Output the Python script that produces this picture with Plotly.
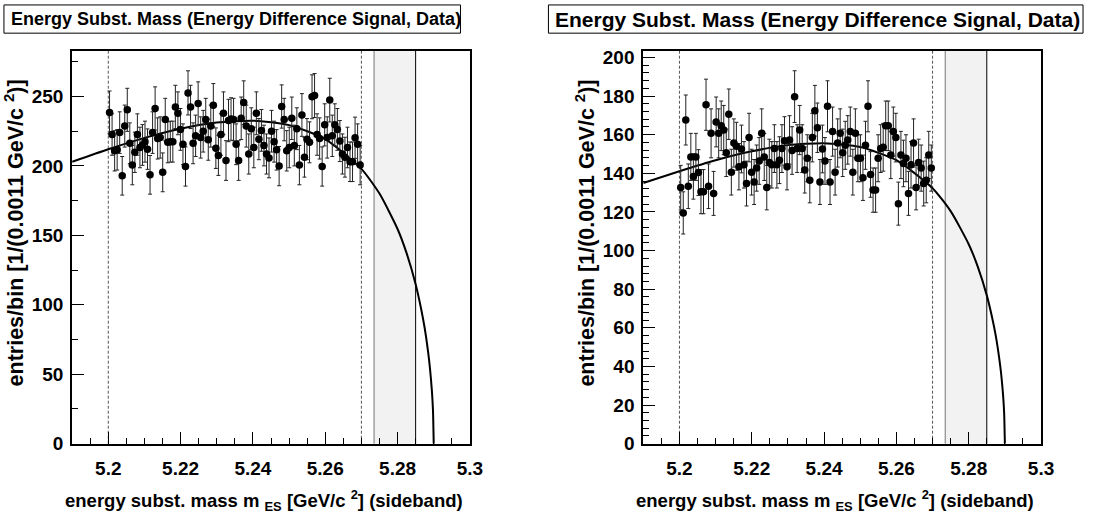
import numpy as np
import plotly.graph_objects as go

W, H = 1098, 516

# ---------------- data ----------------
bin_lo = 5.2
bin_w = 0.0007

left_counts = [
    238.5, 222.6, 210.9, 211.6, 224.0, 192.9, 228.7, 240.4, 216.3, 200.6,
    209.8, 222.6, 213.3, 215.1, 217.5, 212.1, 193.6, 224.0, 241.4, 219.8,
    220.5, 195.4, 233.4, 217.0, 217.5, 217.5, 242.5, 237.9, 226.3, 215.6,
    199.6, 252.6, 242.5, 216.3, 221.7, 244.9, 220.5, 225.0, 233.4, 218.9,
    228.7, 243.7, 212.8, 207.6, 222.6, 237.9, 203.9, 232.7, 233.8, 233.4,
    215.6, 203.9, 234.3, 245.6, 228.7, 208.6, 226.8, 213.3, 237.9, 219.3,
    225.6, 214.7, 208.6, 205.8, 225.0, 217.5, 211.6, 199.9, 242.8, 233.4,
    210.9, 213.3, 234.3, 214.7, 226.8, 200.6, 236.7, 206.3, 219.3, 217.0,
    249.8, 250.7, 222.6, 219.8, 199.6, 229.6, 220.5, 247.4, 221.7, 229.6,
    226.3, 217.9, 208.6, 206.3, 213.3, 203.0, 203.0, 220.3, 215.6, 200.6,
]

right_counts = [
    132.6, 119.5, 167.6, 133.3, 148.5, 138.4, 148.5, 140.4, 130.5, 130.5,
    175.5, 133.3, 160.7, 129.6, 166.6, 160.7, 164.6, 162.4, 150.6, 170.6,
    140.6, 155.7, 154.0, 143.4, 152.6, 144.4, 134.7, 158.5, 140.6, 135.5,
    142.7, 146.4, 160.7, 148.5, 132.6, 145.6, 144.4, 152.8, 144.4, 146.8,
    152.8, 156.8, 143.4, 157.3, 151.8, 179.7, 152.8, 162.4, 152.8, 141.7,
    147.8, 136.4, 158.5, 172.4, 163.6, 135.5, 152.6, 146.4, 174.7, 135.5,
    161.6, 140.6, 155.7, 160.7, 150.6, 154.5, 157.3, 161.6, 140.6, 160.7,
    147.8, 147.8, 137.7, 154.5, 174.7, 139.4, 131.3, 131.3, 147.8, 152.8,
    153.5, 164.6, 164.6, 149.5, 161.6, 158.5, 124.3, 149.5, 145.1, 147.8,
    129.6, 144.4, 155.7, 132.6, 145.6, 142.7, 134.7, 136.4, 149.5, 142.7,
]

curve_x = [5.19, 5.20, 5.21, 5.22, 5.23, 5.24, 5.25, 5.26, 5.27, 5.275, 5.28,
           5.2825, 5.285, 5.2865, 5.2875, 5.2885, 5.289, 5.2895, 5.2898, 5.29]
left_curve = [203.0, 212.0, 220.2, 226.8, 231.3, 232.6, 229.4, 219.3, 197.9, 180.1,
              154.6, 137.2, 114.9, 97.4, 83.3, 65.0, 53.4, 37.9, 24.0, 0.0]
right_curve = [135.0, 141.1, 146.8, 151.4, 154.6, 155.6, 153.6, 146.8, 132.3, 120.4,
               103.3, 91.7, 76.8, 65.1, 55.7, 43.4, 35.7, 25.3, 16.0, 0.0]

sideband = [5.20, 5.27]
signal_box = [5.2735, 5.285]
x_range = [5.19, 5.30]
left_yrange = [0, 283]
right_yrange = [0, 203.5]

title_text = "Energy Subst. Mass (Energy Difference Signal, Data)"
xtitle = "energy subst. mass m <sub>ES</sub> [GeV/c <sup>2</sup>] (sideband)"
ytitle = "entries/bin [1/(0.0011 GeV/c <sup>2</sup>)]"

# ---------------- layout geometry (pixels) ----------------
FONT = "Liberation Sans"
panels = [
    dict(xl=73, xr=475.5, counts=left_counts, curve=left_curve, yr=left_yrange,
         dtick=50, minor=25, box=(4, 466), tsize=18, ax=""),
    dict(xl=651, xr=1053.5, counts=right_counts, curve=right_curve, yr=right_yrange,
         dtick=20, minor=4, box=(555, 1096), tsize=21, ax="2"),
]
y_top, y_bot = 49, 453


def px(x):
    return x / W


def py(y):
    return 1 - y / H


fig = go.Figure()
shapes = []
annotations = []

for p in panels:
    ax = p["ax"]
    xa, ya = "x" + ax, "y" + ax
    counts = np.array(p["counts"])
    centers = bin_lo + bin_w * (np.arange(len(counts)) + 0.5)

    fig.add_trace(go.Scatter(
        x=curve_x, y=p["curve"], mode="lines", xaxis=xa, yaxis=ya,
        line=dict(color="black", width=2, shape="spline", smoothing=0.6),
        hoverinfo="skip", showlegend=False))
    fig.add_trace(go.Scatter(
        x=centers, y=counts, mode="markers", xaxis=xa, yaxis=ya,
        marker=dict(color="black", size=7.5),
        error_y=dict(type="data", array=np.sqrt(counts), color="#222222",
                     thickness=1, width=2),
        showlegend=False))

    # signal box
    shapes.append(dict(type="rect", xref=xa, yref=ya + " domain",
                       x0=signal_box[0], x1=signal_box[1], y0=0, y1=1,
                       fillcolor="#f2f2f2", line=dict(width=0), layer="below"))
    shapes.append(dict(type="line", xref=xa, yref=ya + " domain",
                       x0=signal_box[0], x1=signal_box[0], y0=0, y1=1,
                       line=dict(color="#777777", width=1), layer="below"))
    shapes.append(dict(type="line", xref=xa, yref=ya + " domain",
                       x0=signal_box[1], x1=signal_box[1], y0=0, y1=1,
                       line=dict(color="black", width=1), layer="below"))
    for s in sideband:
        shapes.append(dict(type="line", xref=xa, yref=ya + " domain",
                           x0=s, x1=s, y0=0, y1=1,
                           line=dict(color="#555555", width=1, dash="3px,2px"),
                           layer="below"))

    # title box
    bx0, bx1 = p["box"]
    shapes.append(dict(type="rect", xref="paper", yref="paper",
                       x0=px(bx0), x1=px(bx1), y0=py(31), y1=py(2),
                       fillcolor="white", line=dict(color="black", width=1)))
    annotations.append(dict(xref="paper", yref="paper", x=px(bx0 + 5), y=py(16.5),
                            xanchor="left", yanchor="middle", showarrow=False,
                            text=title_text,
                            font=dict(family=FONT, size=p["tsize"], color="black",
                                      weight="bold")))
    # axis titles
    annotations.append(dict(xref="paper", yref="paper", x=px(p["xr"] - 5), y=py(495),
                            xanchor="right", yanchor="top", showarrow=False,
                            text=xtitle,
                            font=dict(family=FONT, size=18.5, color="black", weight="bold")))
    annotations.append(dict(xref="paper", yref="paper", x=px(p["xl"] - 59), y=py(236),
                            xanchor="center", yanchor="middle", showarrow=False,
                            textangle=-90, text=ytitle,
                            font=dict(family=FONT, size=21.5, color="black", weight="bold")))

    axis_common = dict(showgrid=False, zeroline=False, showline=True, linewidth=2,
                       linecolor="black", mirror=True, ticks="inside",
                       tickcolor="black", tickwidth=1, ticklen=12,
                       tickfont=dict(family=FONT, size=19, color="black", weight="bold"))
    fig.layout["xaxis" + ax] = dict(
        axis_common, domain=[px(p["xl"]), px(p["xr"])], range=x_range,
        tick0=5.2, dtick=0.02, anchor=ya, ticklabelstandoff=6,
        minor=dict(dtick=0.005, ticks="inside", ticklen=6, tickcolor="black",
                   tickwidth=1, showgrid=False))
    fig.layout["yaxis" + ax] = dict(
        axis_common, domain=[py(y_bot), py(y_top)], range=p["yr"],
        tick0=0, dtick=p["dtick"], anchor=xa, ticklabelstandoff=3,
        minor=dict(dtick=p["minor"], ticks="inside", ticklen=6, tickcolor="black",
                   tickwidth=1, showgrid=False))

fig.update_layout(width=W, height=H, margin=dict(l=0, r=0, t=0, b=0),
                  paper_bgcolor="white", plot_bgcolor="white",
                  shapes=shapes, annotations=annotations, showlegend=False,
                  font=dict(family=FONT, color="black"))

fig.write_html("out.html")
